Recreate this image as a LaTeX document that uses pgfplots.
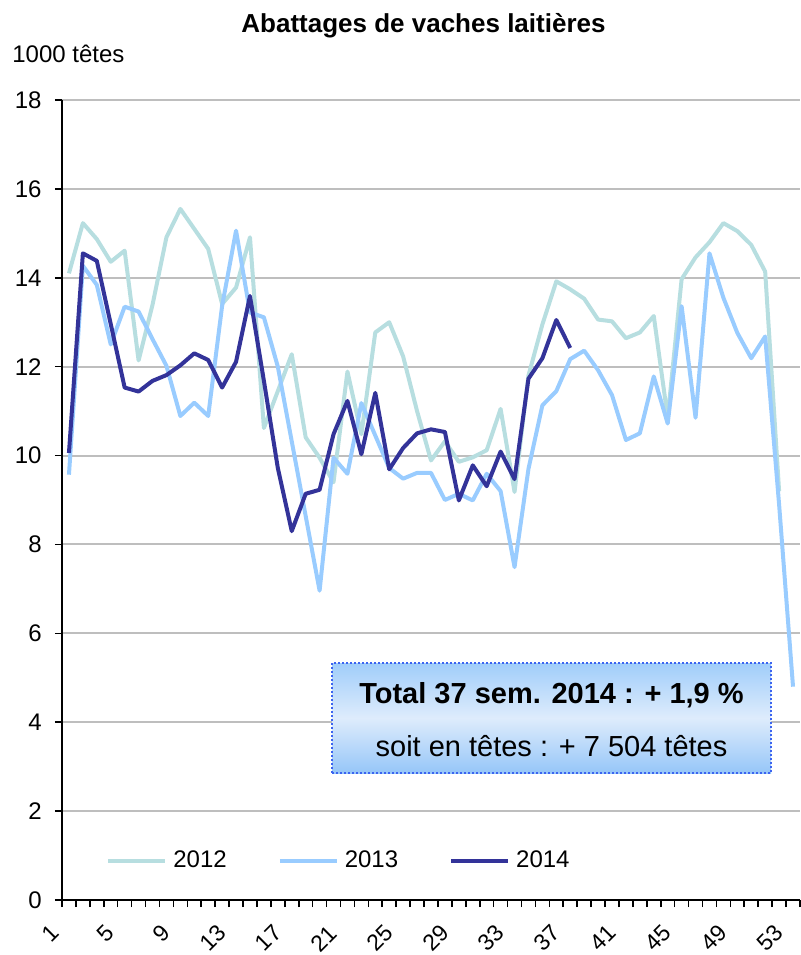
\documentclass[border=0pt]{standalone}
\usepackage{fontspec}
\setmainfont{Liberation Sans}
\usepackage{pgfplots}
\pgfplotsset{compat=1.18}
\definecolor{c2012}{RGB}{183,222,224}
\definecolor{c2013}{RGB}{153,204,255}
\definecolor{c2014}{RGB}{51,51,153}
\definecolor{gridgray}{RGB}{190,190,190}
\definecolor{boxtop}{RGB}{160,205,250}
\definecolor{boxmid}{RGB}{222,236,252}
\definecolor{boxbot}{RGB}{150,198,248}
\definecolor{boxborder}{RGB}{60,100,240}

\pgfplotstableread{
w v
1 14.10
2 15.23
3 14.87
4 14.36
5 14.61
6 12.14
7 13.39
8 14.91
9 15.55
10 15.10
11 14.65
12 13.41
13 13.78
14 14.91
15 10.62
16 11.45
17 12.28
18 10.41
19 9.95
20 9.40
21 11.89
22 10.48
23 12.77
24 13.00
25 12.23
26 11.00
27 9.89
28 10.32
29 9.86
30 9.96
31 10.12
32 11.05
33 9.18
34 11.80
35 12.95
36 13.92
37 13.74
38 13.53
39 13.06
40 13.02
41 12.64
42 12.77
43 13.14
44 10.85
45 13.97
46 14.46
47 14.80
48 15.23
49 15.05
50 14.74
51 14.14
52 9.20
}\dataA

\pgfplotstableread{
w v
1 9.57
2 14.27
3 13.84
4 12.50
5 13.35
6 13.24
7 12.62
8 12.02
9 10.89
10 11.19
11 10.89
12 13.37
13 15.06
14 13.22
15 13.11
16 12.00
17 10.32
18 8.64
19 6.96
20 9.95
21 9.59
22 11.18
23 10.45
24 9.72
25 9.48
26 9.61
27 9.61
28 9.00
29 9.14
30 8.99
31 9.59
32 9.20
33 7.49
34 9.70
35 11.13
36 11.45
37 12.17
38 12.36
39 11.92
40 11.36
41 10.35
42 10.50
43 11.78
44 10.72
45 13.36
46 10.85
47 14.55
48 13.55
49 12.76
50 12.19
51 12.68
52 8.90
53 4.80
}\dataB

\pgfplotstableread{
w v
1 10.06
2 14.55
3 14.38
4 12.96
5 11.53
6 11.44
7 11.68
8 11.81
9 12.03
10 12.30
11 12.15
12 11.53
13 12.11
14 13.59
15 11.68
16 9.72
17 8.30
18 9.14
19 9.23
20 10.48
21 11.23
22 10.03
23 11.41
24 9.69
25 10.17
26 10.50
27 10.59
28 10.53
29 8.99
30 9.78
31 9.31
32 10.09
33 9.47
34 11.73
35 12.19
36 13.05
37 12.42
}\dataC

\begin{document}
\begin{tikzpicture}
\useasboundingbox (-31pt,-27.5pt) rectangle (369.5pt,450pt);
\begin{axis}[
  at={(0,0)}, anchor=south west,
  width=369pt, height=400pt, scale only axis,
  xmin=0.5, xmax=53.5, ymin=0, ymax=18,
  axis x line=bottom, axis y line=left,
  axis line style={-, line width=1pt, black},
  /pgf/number format/assume math mode=true,
  tick label style={font=\fontsize{12pt}{14pt}\selectfont},
  xtick={1,5,...,53},
  minor xtick={0.5,1.5,...,53.5},
  xticklabel style={font=\fontsize{11.5pt}{13pt}\selectfont, inner sep=0pt, anchor=east, xshift=-7pt, yshift=-14.5pt, rotate=45},
  ytick={0,2,...,18},
  minor ytick={0,2,...,18},
  yticklabel style={anchor=east, inner sep=0pt, xshift=-10pt},
  tick align=outside,
  major tick length=0pt,
  minor tick length=3.5pt,
  tick style={black, line width=0.8pt},
  ymajorgrids,
  grid style={gridgray, line width=1pt},
  legend columns=3,
  legend style={at={(rel axis cs:0.0596,0.049)}, anchor=west, draw=none, fill=none,
     inner sep=0pt, font=\fontsize{12pt}{14pt}\selectfont, nodes={inner sep=0pt},
     /tikz/every odd column/.append style={column sep=3pt},
     /tikz/every even column/.append style={column sep=25.5pt}},
  legend image code/.code={\draw[#1] (0pt,0pt) -- (28.5pt,0pt);},
]
\addplot[c2012, line width=2pt, line join=round] table[x=w,y=v] {\dataA};
\addlegendentry{2012}
\addplot[c2013, line width=2pt, line join=round] table[x=w,y=v] {\dataB};
\addlegendentry{2013}
\addplot[c2014, line width=2pt, line join=round] table[x=w,y=v] {\dataC};
\addlegendentry{2014}
\node[draw=boxborder, line width=1pt, dash pattern=on 1pt off 1pt, top color=boxtop, bottom color=boxbot, middle color=boxmid, minimum width=219.5pt, minimum height=55pt, inner sep=0pt] at (rel axis cs:0.6633,0.2275) {};
\node[anchor=base, font=\fontsize{14.5pt}{17pt}\selectfont\bfseries] at (rel axis cs:0.6633,0.2459) {Total 37 sem. 2014 : + 1,9 \%};
\node[anchor=base, font=\fontsize{14.5pt}{17pt}\selectfont] at (rel axis cs:0.6633,0.18) {soit en têtes : + 7 504 têtes};
\end{axis}
\node[anchor=base, font=\fontsize{13pt}{15pt}\selectfont\bfseries] at (180.75pt,433.5pt) {Abattages de vaches laitières};
\node[anchor=base west, inner sep=0pt, font=\fontsize{12pt}{14pt}\selectfont] at (-25pt,418.5pt) {1000 têtes};
\end{tikzpicture}
\end{document}
